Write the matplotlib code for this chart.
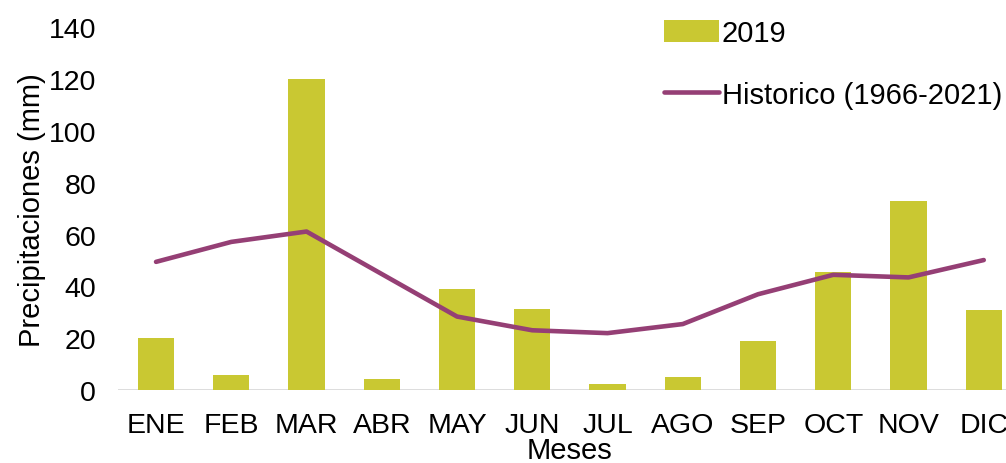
import numpy as np
import matplotlib
matplotlib.use('Agg')
import matplotlib.pyplot as plt

plt.rcParams['font.family'] = ['Liberation Sans', 'DejaVu Sans']

# Monthly precipitation data
meses = ['ENE', 'FEB', 'MAR', 'ABR', 'MAY', 'JUN', 'JUL', 'AGO', 'SEP', 'OCT', 'NOV', 'DIC']
prec_2019 = [20, 6, 120, 4.2, 39, 31.2, 2.3, 5.2, 18.8, 45.4, 73, 31]
historico = [49.5, 57.2, 61.2, 44.8, 28.4, 23.1, 22.0, 25.5, 37.0, 44.5, 43.5, 50.2]

bar_color = '#C9C832'
line_color = '#953F75'

fig = plt.figure(figsize=(10.06, 4.64), dpi=100)
ax = fig.add_axes([0.1177, 0.157, 0.8976, 0.782])

x = np.arange(len(meses))
ax.axhline(0, color='#D9D9D9', linewidth=2, zorder=1)
bars = ax.bar(x, prec_2019, width=0.48, color=bar_color, label='2019', zorder=2)
line, = ax.plot(x, historico, color=line_color, linewidth=3.3, label='Historico (1966-2021)',
                solid_capstyle='round', zorder=3)

ax.set_xlim(-0.5, len(meses) - 0.5)
ax.set_ylim(0, 140)
ax.set_yticks(np.arange(0, 141, 20))
ax.set_xticks(x)
ax.set_xticklabels(meses)
ax.tick_params(axis='both', length=0, labelsize=20.5)
ax.tick_params(axis='y', pad=16)
ax.tick_params(axis='x', pad=15.5)
for s in ax.spines.values():
    s.set_visible(False)

ax.set_ylabel('Precipitaciones (mm)', fontsize=21, labelpad=2)
ax.set_xlabel('Meses', fontsize=21, labelpad=-1)

fig.legend(handles=[bars, line], loc='upper left', bbox_to_anchor=(0.648, 0.982),
           frameon=False, fontsize=21, handlelength=1.9, handleheight=0.75,
           handletextpad=0.1, labelspacing=1.15, borderaxespad=0)

fig.savefig('out.png', dpi=100)
